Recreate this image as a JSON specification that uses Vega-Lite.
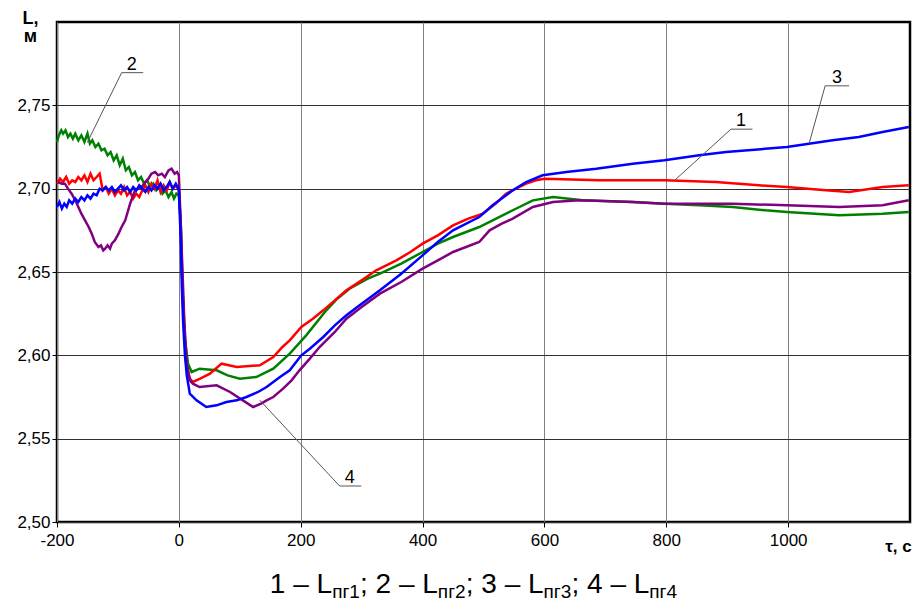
{
  "$schema": "https://vega.github.io/schema/vega-lite/v6.json",
  "width": 853,
  "height": 500,
  "autosize": {"type": "none"},
  "padding": {"left": 57, "top": 22, "right": 14, "bottom": 81},
  "background": "white",
  "config": {
    "font": "Liberation Sans",
    "view": {"stroke": "black", "strokeWidth": 2.5}
  },
  "datasets": {
    "curves": [
      {"s":"1","t":-200,"L":2.703},{"s":"1","t":-195,"L":2.706},{"s":"1","t":-190,"L":2.704},{"s":"1","t":-185,"L":2.707},{"s":"1","t":-180,"L":2.703},{"s":"1","t":-175,"L":2.705},{"s":"1","t":-170,"L":2.704},{"s":"1","t":-165,"L":2.707},{"s":"1","t":-160,"L":2.705},{"s":"1","t":-155,"L":2.708},{"s":"1","t":-150,"L":2.704},{"s":"1","t":-145,"L":2.709},{"s":"1","t":-140,"L":2.705},{"s":"1","t":-135,"L":2.707},{"s":"1","t":-130,"L":2.709},{"s":"1","t":-125,"L":2.699},{"s":"1","t":-120,"L":2.701},{"s":"1","t":-115,"L":2.697},{"s":"1","t":-110,"L":2.700},{"s":"1","t":-105,"L":2.696},{"s":"1","t":-100,"L":2.699},{"s":"1","t":-95,"L":2.697},{"s":"1","t":-90,"L":2.701},{"s":"1","t":-85,"L":2.696},{"s":"1","t":-80,"L":2.698},{"s":"1","t":-75,"L":2.694},{"s":"1","t":-70,"L":2.697},{"s":"1","t":-65,"L":2.695},{"s":"1","t":-60,"L":2.699},{"s":"1","t":-55,"L":2.702},{"s":"1","t":-50,"L":2.698},{"s":"1","t":-45,"L":2.703},{"s":"1","t":-40,"L":2.700},{"s":"1","t":-35,"L":2.705},{"s":"1","t":-30,"L":2.698},{"s":"1","t":-25,"L":2.702},{"s":"1","t":-20,"L":2.699},{"s":"1","t":-15,"L":2.704},{"s":"1","t":-10,"L":2.700},{"s":"1","t":-5,"L":2.702},{"s":"1","t":0,"L":2.699},
      {"s":"1","t":3,"L":2.68},{"s":"1","t":5,"L":2.65},{"s":"1","t":8,"L":2.62},{"s":"1","t":12,"L":2.595},{"s":"1","t":18,"L":2.586},{"s":"1","t":23,"L":2.584},{"s":"1","t":35,"L":2.586},{"s":"1","t":51,"L":2.589},{"s":"1","t":70,"L":2.595},{"s":"1","t":82,"L":2.594},{"s":"1","t":95,"L":2.593},{"s":"1","t":133,"L":2.594},{"s":"1","t":155,"L":2.599},{"s":"1","t":170,"L":2.605},{"s":"1","t":182,"L":2.609},{"s":"1","t":201,"L":2.617},{"s":"1","t":220,"L":2.622},{"s":"1","t":237,"L":2.627},{"s":"1","t":256,"L":2.633},{"s":"1","t":275,"L":2.639},{"s":"1","t":300,"L":2.645},{"s":"1","t":324,"L":2.651},{"s":"1","t":357,"L":2.657},{"s":"1","t":380,"L":2.662},{"s":"1","t":400,"L":2.667},{"s":"1","t":425,"L":2.672},{"s":"1","t":450,"L":2.678},{"s":"1","t":475,"L":2.682},{"s":"1","t":499,"L":2.685},{"s":"1","t":520,"L":2.691},{"s":"1","t":537,"L":2.697},{"s":"1","t":559,"L":2.701},{"s":"1","t":570,"L":2.703},{"s":"1","t":586,"L":2.705},{"s":"1","t":600,"L":2.706},{"s":"1","t":690,"L":2.705},{"s":"1","t":797,"L":2.705},{"s":"1","t":881,"L":2.704},{"s":"1","t":952,"L":2.702},{"s":"1","t":998,"L":2.701},{"s":"1","t":1062,"L":2.699},{"s":"1","t":1100,"L":2.698},{"s":"1","t":1155,"L":2.701},{"s":"1","t":1198,"L":2.702},

      {"s":"2","t":-200,"L":2.728},{"s":"2","t":-197,"L":2.732},{"s":"2","t":-193,"L":2.735},{"s":"2","t":-190,"L":2.733},{"s":"2","t":-186,"L":2.735},{"s":"2","t":-182,"L":2.731},{"s":"2","t":-178,"L":2.733},{"s":"2","t":-174,"L":2.730},{"s":"2","t":-170,"L":2.733},{"s":"2","t":-165,"L":2.729},{"s":"2","t":-160,"L":2.732},{"s":"2","t":-155,"L":2.728},{"s":"2","t":-150,"L":2.733},{"s":"2","t":-146,"L":2.727},{"s":"2","t":-142,"L":2.729},{"s":"2","t":-137,"L":2.725},{"s":"2","t":-132,"L":2.727},{"s":"2","t":-127,"L":2.723},{"s":"2","t":-122,"L":2.724},{"s":"2","t":-117,"L":2.720},{"s":"2","t":-112,"L":2.722},{"s":"2","t":-107,"L":2.717},{"s":"2","t":-102,"L":2.720},{"s":"2","t":-97,"L":2.714},{"s":"2","t":-92,"L":2.718},{"s":"2","t":-87,"L":2.711},{"s":"2","t":-82,"L":2.713},{"s":"2","t":-77,"L":2.708},{"s":"2","t":-72,"L":2.710},{"s":"2","t":-67,"L":2.705},{"s":"2","t":-62,"L":2.707},{"s":"2","t":-57,"L":2.703},{"s":"2","t":-52,"L":2.705},{"s":"2","t":-47,"L":2.701},{"s":"2","t":-42,"L":2.703},{"s":"2","t":-37,"L":2.699},{"s":"2","t":-32,"L":2.701},{"s":"2","t":-27,"L":2.697},{"s":"2","t":-22,"L":2.699},{"s":"2","t":-17,"L":2.695},{"s":"2","t":-12,"L":2.698},{"s":"2","t":-8,"L":2.694},{"s":"2","t":-4,"L":2.697},{"s":"2","t":0,"L":2.696},
      {"s":"2","t":3,"L":2.68},{"s":"2","t":6,"L":2.64},{"s":"2","t":10,"L":2.61},{"s":"2","t":15,"L":2.595},{"s":"2","t":21,"L":2.590},{"s":"2","t":34,"L":2.592},{"s":"2","t":62,"L":2.591},{"s":"2","t":80,"L":2.588},{"s":"2","t":100,"L":2.586},{"s":"2","t":127,"L":2.587},{"s":"2","t":155,"L":2.592},{"s":"2","t":182,"L":2.601},{"s":"2","t":209,"L":2.612},{"s":"2","t":242,"L":2.627},{"s":"2","t":260,"L":2.634},{"s":"2","t":280,"L":2.640},{"s":"2","t":310,"L":2.646},{"s":"2","t":330,"L":2.649},{"s":"2","t":365,"L":2.655},{"s":"2","t":400,"L":2.662},{"s":"2","t":425,"L":2.667},{"s":"2","t":450,"L":2.671},{"s":"2","t":493,"L":2.677},{"s":"2","t":515,"L":2.681},{"s":"2","t":537,"L":2.685},{"s":"2","t":559,"L":2.689},{"s":"2","t":581,"L":2.693},{"s":"2","t":614,"L":2.695},{"s":"2","t":663,"L":2.693},{"s":"2","t":745,"L":2.692},{"s":"2","t":797,"L":2.691},{"s":"2","t":854,"L":2.690},{"s":"2","t":909,"L":2.689},{"s":"2","t":963,"L":2.687},{"s":"2","t":998,"L":2.686},{"s":"2","t":1084,"L":2.684},{"s":"2","t":1155,"L":2.685},{"s":"2","t":1198,"L":2.686},

      {"s":"3","t":-200,"L":2.689},{"s":"3","t":-196,"L":2.692},{"s":"3","t":-192,"L":2.688},{"s":"3","t":-188,"L":2.691},{"s":"3","t":-184,"L":2.689},{"s":"3","t":-180,"L":2.693},{"s":"3","t":-175,"L":2.691},{"s":"3","t":-170,"L":2.694},{"s":"3","t":-165,"L":2.692},{"s":"3","t":-160,"L":2.695},{"s":"3","t":-155,"L":2.693},{"s":"3","t":-150,"L":2.696},{"s":"3","t":-145,"L":2.694},{"s":"3","t":-140,"L":2.697},{"s":"3","t":-135,"L":2.696},{"s":"3","t":-130,"L":2.700},{"s":"3","t":-125,"L":2.699},{"s":"3","t":-120,"L":2.701},{"s":"3","t":-115,"L":2.699},{"s":"3","t":-110,"L":2.701},{"s":"3","t":-105,"L":2.698},{"s":"3","t":-100,"L":2.700},{"s":"3","t":-95,"L":2.702},{"s":"3","t":-90,"L":2.699},{"s":"3","t":-85,"L":2.701},{"s":"3","t":-80,"L":2.698},{"s":"3","t":-75,"L":2.701},{"s":"3","t":-70,"L":2.699},{"s":"3","t":-65,"L":2.702},{"s":"3","t":-60,"L":2.700},{"s":"3","t":-55,"L":2.698},{"s":"3","t":-50,"L":2.701},{"s":"3","t":-45,"L":2.699},{"s":"3","t":-40,"L":2.702},{"s":"3","t":-35,"L":2.700},{"s":"3","t":-30,"L":2.703},{"s":"3","t":-25,"L":2.699},{"s":"3","t":-20,"L":2.701},{"s":"3","t":-15,"L":2.704},{"s":"3","t":-10,"L":2.700},{"s":"3","t":-5,"L":2.703},{"s":"3","t":-2,"L":2.701},{"s":"3","t":0,"L":2.699},
      {"s":"3","t":3,"L":2.67},{"s":"3","t":5,"L":2.64},{"s":"3","t":7,"L":2.62},{"s":"3","t":10,"L":2.60},{"s":"3","t":13,"L":2.588},{"s":"3","t":18,"L":2.577},{"s":"3","t":29,"L":2.573},{"s":"3","t":45,"L":2.569},{"s":"3","t":62,"L":2.570},{"s":"3","t":78,"L":2.572},{"s":"3","t":95,"L":2.573},{"s":"3","t":111,"L":2.575},{"s":"3","t":130,"L":2.578},{"s":"3","t":144,"L":2.581},{"s":"3","t":166,"L":2.587},{"s":"3","t":182,"L":2.591},{"s":"3","t":201,"L":2.600},{"s":"3","t":215,"L":2.604},{"s":"3","t":237,"L":2.611},{"s":"3","t":256,"L":2.618},{"s":"3","t":275,"L":2.624},{"s":"3","t":300,"L":2.631},{"s":"3","t":330,"L":2.639},{"s":"3","t":365,"L":2.649},{"s":"3","t":400,"L":2.660},{"s":"3","t":425,"L":2.668},{"s":"3","t":450,"L":2.675},{"s":"3","t":493,"L":2.683},{"s":"3","t":515,"L":2.690},{"s":"3","t":526,"L":2.693},{"s":"3","t":548,"L":2.699},{"s":"3","t":570,"L":2.704},{"s":"3","t":597,"L":2.708},{"s":"3","t":636,"L":2.710},{"s":"3","t":685,"L":2.712},{"s":"3","t":745,"L":2.715},{"s":"3","t":797,"L":2.717},{"s":"3","t":854,"L":2.720},{"s":"3","t":898,"L":2.722},{"s":"3","t":998,"L":2.725},{"s":"3","t":1034,"L":2.727},{"s":"3","t":1073,"L":2.729},{"s":"3","t":1116,"L":2.731},{"s":"3","t":1155,"L":2.734},{"s":"3","t":1198,"L":2.737},

      {"s":"4","t":-198,"L":2.704},{"s":"4","t":-192,"L":2.703},{"s":"4","t":-187,"L":2.703},{"s":"4","t":-182,"L":2.700},{"s":"4","t":-176,"L":2.697},{"s":"4","t":-170,"L":2.693},{"s":"4","t":-165,"L":2.689},{"s":"4","t":-160,"L":2.685},{"s":"4","t":-154,"L":2.681},{"s":"4","t":-148,"L":2.677},{"s":"4","t":-143,"L":2.673},{"s":"4","t":-138,"L":2.668},{"s":"4","t":-132,"L":2.665},{"s":"4","t":-128,"L":2.666},{"s":"4","t":-124,"L":2.663},{"s":"4","t":-121,"L":2.664},{"s":"4","t":-117,"L":2.666},{"s":"4","t":-113,"L":2.664},{"s":"4","t":-110,"L":2.667},{"s":"4","t":-105,"L":2.669},{"s":"4","t":-99,"L":2.673},{"s":"4","t":-94,"L":2.677},{"s":"4","t":-88,"L":2.681},{"s":"4","t":-84,"L":2.686},{"s":"4","t":-80,"L":2.691},{"s":"4","t":-76,"L":2.695},{"s":"4","t":-72,"L":2.699},{"s":"4","t":-66,"L":2.700},{"s":"4","t":-61,"L":2.701},{"s":"4","t":-55,"L":2.704},{"s":"4","t":-50,"L":2.706},{"s":"4","t":-45,"L":2.709},{"s":"4","t":-39,"L":2.710},{"s":"4","t":-34,"L":2.708},{"s":"4","t":-28,"L":2.709},{"s":"4","t":-23,"L":2.707},{"s":"4","t":-17,"L":2.711},{"s":"4","t":-12,"L":2.712},{"s":"4","t":-7,"L":2.709},{"s":"4","t":-3,"L":2.710},{"s":"4","t":0,"L":2.708},
      {"s":"4","t":3,"L":2.68},{"s":"4","t":6,"L":2.65},{"s":"4","t":9,"L":2.62},{"s":"4","t":13,"L":2.595},{"s":"4","t":18,"L":2.585},{"s":"4","t":23,"L":2.583},{"s":"4","t":34,"L":2.581},{"s":"4","t":62,"L":2.582},{"s":"4","t":84,"L":2.578},{"s":"4","t":105,"L":2.573},{"s":"4","t":122,"L":2.569},{"s":"4","t":135,"L":2.571},{"s":"4","t":144,"L":2.573},{"s":"4","t":155,"L":2.575},{"s":"4","t":171,"L":2.580},{"s":"4","t":185,"L":2.585},{"s":"4","t":198,"L":2.591},{"s":"4","t":215,"L":2.598},{"s":"4","t":231,"L":2.605},{"s":"4","t":256,"L":2.614},{"s":"4","t":275,"L":2.622},{"s":"4","t":300,"L":2.629},{"s":"4","t":330,"L":2.637},{"s":"4","t":365,"L":2.644},{"s":"4","t":400,"L":2.652},{"s":"4","t":425,"L":2.657},{"s":"4","t":450,"L":2.662},{"s":"4","t":493,"L":2.668},{"s":"4","t":510,"L":2.675},{"s":"4","t":530,"L":2.679},{"s":"4","t":548,"L":2.682},{"s":"4","t":581,"L":2.689},{"s":"4","t":614,"L":2.692},{"s":"4","t":657,"L":2.693},{"s":"4","t":745,"L":2.692},{"s":"4","t":797,"L":2.691},{"s":"4","t":909,"L":2.691},{"s":"4","t":998,"L":2.690},{"s":"4","t":1084,"L":2.689},{"s":"4","t":1155,"L":2.690},{"s":"4","t":1198,"L":2.693}
    ],
    "leaders": [
      {"t":-150.3,"L":2.7277,"t2":-93.9,"L2":2.7696},
      {"t":-93.9,"L":2.7696,"t2":-58.5,"L2":2.7696},
      {"t":813.1,"L":2.7048,"t2":906.1,"L2":2.7357},
      {"t":906.1,"L":2.7357,"t2":941.5,"L2":2.7357},
      {"t":1034.4,"L":2.7271,"t2":1060.7,"L2":2.7617},
      {"t":1060.7,"L":2.7617,"t2":1100,"L2":2.7617},
      {"t":132.8,"L":2.5731,"t2":263.9,"L2":2.5216},
      {"t":263.9,"L":2.5216,"t2":299.5,"L2":2.5216}
    ],
    "labels": [
      {"txt":"2","t":-77.5,"L":2.7696},
      {"txt":"1","t":922.5,"L":2.7357},
      {"txt":"3","t":1080.3,"L":2.7617},
      {"txt":"4","t":280.3,"L":2.5216}
    ],
    "caption": [
      {"txt":"1 – L","k":"main","t":149.3,"L":2.4575},
      {"txt":"пг1","k":"sub","t":251.6,"L":2.4545},
      {"txt":"; 2 – L","k":"main","t":297.4,"L":2.4575},
      {"txt":"пг2","k":"sub","t":425.1,"L":2.4545},
      {"txt":"; 3 – L","k":"main","t":470.9,"L":2.4575},
      {"txt":"пг3","k":"sub","t":598.6,"L":2.4545},
      {"txt":"; 4 – L","k":"main","t":644.4,"L":2.4575},
      {"txt":"пг4","k":"sub","t":772.0,"L":2.4545}
    ]
  },
  "encoding": {
    "x": {
      "field": "t", "type": "quantitative",
      "scale": {"domain": [-200, 1200], "nice": false, "zero": false},
      "axis": {
        "values": [-200, 0, 200, 400, 600, 800, 1000],
        "labelExpr": "'' + datum.value",
        "grid": true, "gridColor": "#808080", "gridWidth": 1, "gridOpacity": 1,
        "domain": false, "ticks": true, "tickColor": "black", "tickSize": 5,
        "labelFontSize": 17, "labelColor": "black", "labelPadding": 5, "labelFlush": false,
        "title": "τ, с", "titleFontSize": 17, "titleFontWeight": "bold", "titleColor": "black",
        "titleX": 841, "titleY": 24, "titleAlign": "center", "titleBaseline": "middle"
      }
    },
    "y": {
      "field": "L", "type": "quantitative",
      "scale": {"domain": [2.5, 2.8], "nice": false, "zero": false},
      "axis": {
        "values": [2.5, 2.55, 2.6, 2.65, 2.7, 2.75],
        "labelExpr": "replace(format(datum.value, '.2f'), '.', ',')",
        "grid": true, "gridColor": "#303030", "gridWidth": 1, "gridOpacity": 1,
        "domain": false, "ticks": true, "tickColor": "black", "tickSize": 5,
        "labelFontSize": 17, "labelColor": "black", "labelPadding": 2, "labelFlush": false,
        "title": ["L,", "м"], "titleAngle": 0, "titleFontSize": 18, "titleFontWeight": "bold", "titleColor": "black",
        "titleLineHeight": 18, "titleX": -27, "titleY": 1, "titleAlign": "center", "titleBaseline": "alphabetic"
      }
    }
  },
  "layer": [
    {"data": {"name": "curves"}, "transform": [{"filter": "datum.s == '2'"}], "mark": {"type": "line", "color": "#008000", "strokeWidth": 2.5}},
    {"data": {"name": "curves"}, "transform": [{"filter": "datum.s == '1'"}], "mark": {"type": "line", "color": "#ff0000", "strokeWidth": 2.5}},
    {"data": {"name": "curves"}, "transform": [{"filter": "datum.s == '4'"}], "mark": {"type": "line", "color": "#800080", "strokeWidth": 2.5}},
    {"data": {"name": "curves"}, "transform": [{"filter": "datum.s == '3'"}], "mark": {"type": "line", "color": "#0000ff", "strokeWidth": 2.5}},
    {"data": {"name": "leaders"}, "mark": {"type": "rule", "color": "#555555", "strokeWidth": 1}, "encoding": {"x2": {"field": "t2"}, "y2": {"field": "L2"}}},
    {"data": {"name": "labels"}, "mark": {"type": "text", "fontSize": 18, "color": "black", "align": "center", "baseline": "alphabetic", "dy": -3}, "encoding": {"text": {"field": "txt"}}},
    {"data": {"name": "caption"}, "transform": [{"filter": "datum.k == 'main'"}], "mark": {"type": "text", "fontSize": 28, "color": "black", "align": "left", "baseline": "alphabetic"}, "encoding": {"text": {"field": "txt"}}},
    {"data": {"name": "caption"}, "transform": [{"filter": "datum.k == 'sub'"}], "mark": {"type": "text", "fontSize": 19, "color": "black", "align": "left", "baseline": "alphabetic"}, "encoding": {"text": {"field": "txt"}}}
  ]
}
